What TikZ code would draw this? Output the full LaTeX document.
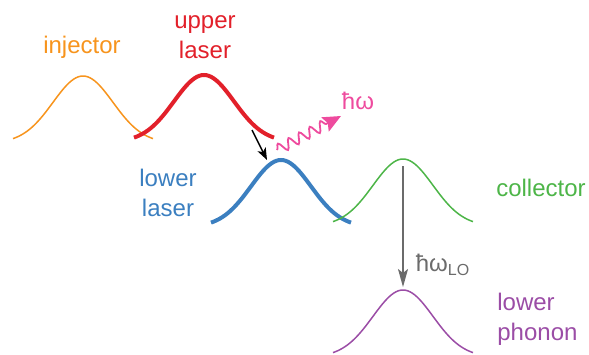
\documentclass[tikz,border=0pt]{standalone}
\usepackage{fontspec}
\setmainfont{Liberation Sans}
\usetikzlibrary{arrows.meta,positioning,decorations.pathmorphing}
\definecolor{inj}{HTML}{F7941D}
\definecolor{upr}{HTML}{E2202A}
\definecolor{lwr}{HTML}{3B7FC0}
\definecolor{col}{HTML}{4DB548}
\definecolor{phn}{HTML}{9B4DA6}
\definecolor{pht}{HTML}{EE4B9E}
\definecolor{lo}{HTML}{6B6B6B}
% one level: centre x, base y, style
\newcommand\levelbump[3]{%
  \draw[#3] plot[domain=-70:70, samples=61, smooth]
    ({#1+\x},{#2-67*exp(-0.5*(\x/30)*(\x/30))});}

\begin{document}
\begin{tikzpicture}[x=0.5pt, y=-0.5pt, font=\fontsize{12}{15}\selectfont,
  thinlvl/.style={line width=0.75pt},
  thicklvl/.style={line width=2pt},
  lbl/.style={inner sep=0pt, align=center}]
\useasboundingbox (0,0) rectangle (589,354);
% levels
\levelbump{83}{143}{thinlvl, inj}
\levelbump{204}{142}{thicklvl, upr}
\levelbump{281}{227}{thicklvl, lwr}
\levelbump{403}{226}{thinlvl, col}
\levelbump{403}{357}{thinlvl, phn}
% labels
\node[lbl, text=inj] (injlbl) at (82,47) {injector};
\node[lbl, text=upr] (uplbl) at (205,37) {upper\\laser};
\node[lbl, text=lwr] (lowlbl) at (168,193) {lower\\laser};
\node[lbl, text=col] (collbl) at (541,188) {collector};
\node[lbl, text=phn, align=left, anchor=west] (phnlbl) at (497,319) {lower\\phonon};
\node[lbl, text=pht] (photon) at (358,101) {ħω};
\node[lbl, text=lo] (lolbl) at (443,265) {ħω\textsubscript{LO}};
% transitions
\coordinate (uptail) at (252,130);
\coordinate (lowpeak) at (267,160);
\coordinate (wavein) at (277,150);
\coordinate (waveout) at (341,116);
\coordinate (colpeak) at (403,166);
\coordinate (phnpeak) at (403,287);
\draw[-{Stealth[length=6pt,width=4.5pt,inset=1.5pt]}, line width=0.7pt] (uptail) -- (lowpeak);
\draw[pht, -{Stealth[length=9pt,width=8pt,inset=1.5pt]}, line width=0.9pt, decorate,
  decoration={snake, amplitude=2.6pt, segment length=6pt, post length=8pt}]
  (wavein) -- (waveout);
\draw[lo, -{Stealth[length=9pt,width=5pt,inset=2pt]}, line width=0.8pt] (colpeak) -- (phnpeak);
\end{tikzpicture}
\end{document}
